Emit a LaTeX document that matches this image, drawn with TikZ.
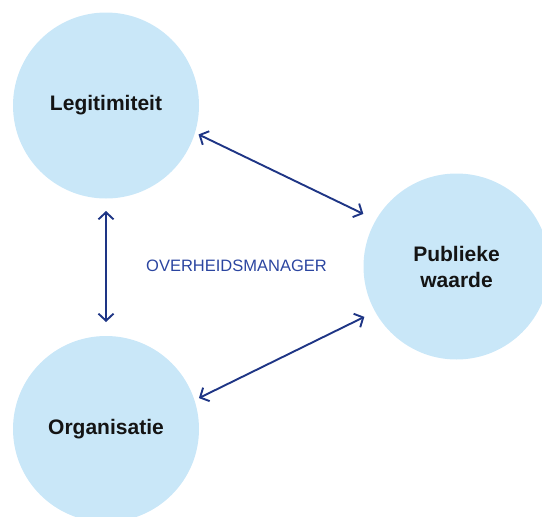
\documentclass[tikz,border=0pt]{standalone}
\usepackage{fontspec}
\setmainfont{Liberation Sans}
\usetikzlibrary{arrows.meta}
\definecolor{bubble}{HTML}{C9E7F8}
\definecolor{navy}{HTML}{1E3585}
\definecolor{labelblue}{HTML}{2B45A0}
\tikzset{
  bubble/.style={circle, fill=bubble, minimum size=186pt, inner sep=0pt, outer sep=0pt,
    font=\fontsize{21}{26}\selectfont\bfseries, text=black!92, align=center},
  link/.style={draw=navy, line width=1.9pt, {Straight Barb[length=7pt,width=15pt]}-{Straight Barb[length=7pt,width=15pt]}}
}
\begin{document}
\begin{tikzpicture}[x=1pt,y=-1pt]
\useasboundingbox (0,0) rectangle (542,517);
\node[bubble] (L) at (106,105.5) {Legitimiteit};
\node[bubble] (P) at (456.5,266.5) {Publieke\\waarde};
\node[bubble] (O) at (106,429) {Organisatie};
\node[text=labelblue, font=\fontsize{16.5}{20}\selectfont, anchor=center] (M) at (236.5,265.5) {OVERHEIDSMANAGER};
\draw[link, shorten <=4pt, shorten >=14pt] (L.-17) -- (P.150.7);
\draw[link, shorten <=12.5pt, shorten >=14pt] (L.-90) -- (O.90);
\draw[link, shorten <=5pt, shorten >=12pt] (O.18.4) -- (P.-151.8);
\end{tikzpicture}
\end{document}
